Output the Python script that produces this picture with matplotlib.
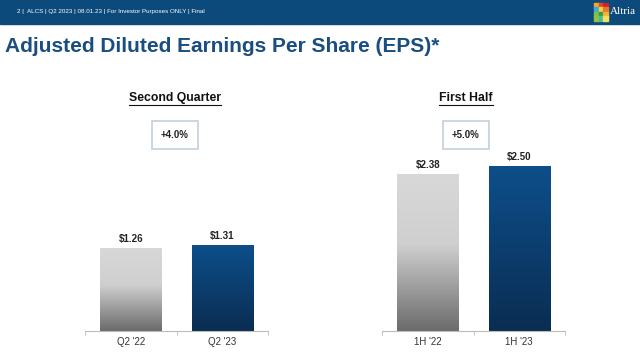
import numpy as np
import matplotlib.pyplot as plt
from matplotlib.patches import Rectangle
from matplotlib.colors import LinearSegmentedColormap

plt.rcParams['font.family'] = ['Liberation Sans', 'DejaVu Sans']

# data
q_labels = ["Q2 '22", "Q2 '23"]
q_values = [1.26, 1.31]
h_labels = ["1H '22", "1H '23"]
h_values = [2.38, 2.50]
panel_titles = ['Second Quarter', 'First Half']
growth = ['+4.0%', '+5.0%']

header_text = '2 |  ALCS | Q2 2023 | 08.01.23 | For Investor Purposes ONLY | Final'
title = 'Adjusted Diluted Earnings Per Share (EPS)*'

navy = '#0c4a7c'
title_blue = '#1a4d80'

gray_cmap = LinearSegmentedColormap.from_list('g', [(0, '#d8d8d8'), (0.45, '#cfcfcf'), (1, '#6b6b6b')])
blue_cmap = LinearSegmentedColormap.from_list('b', [(0, '#0d4f8b'), (1, '#0a2d52')])


def gradient_bars(ax, values, labels):
    bars = ax.bar(range(len(values)), values, width=0.67, color='none', zorder=2)
    grad = np.linspace(0, 1, 256).reshape(-1, 1)
    for bar, cmap in zip(bars, [gray_cmap, blue_cmap]):
        x0, y0 = bar.get_x(), bar.get_y()
        w, h = bar.get_width(), bar.get_height()
        im = ax.imshow(grad, cmap=cmap, aspect='auto', origin='upper',
                       extent=[x0, x0 + w, y0, y0 + h], zorder=1)
        im.set_clip_path(bar)
        ax.text(x0 + w / 2, h + 0.06, '$%.2f' % h, ha='center', va='bottom',
                fontsize=7, fontweight='bold', color='#222222')
    ax.set_xlim(-0.5, 1.5)
    ax.set_ylim(0, 3.0)
    ax.set_xticks(range(len(labels)))
    ax.set_xticklabels(labels, fontsize=7, color='#333333')
    ax.set_xticks([-0.5, 0.5, 1.5], minor=True)
    ax.tick_params(axis='x', which='major', length=0, pad=4)
    ax.tick_params(axis='x', which='minor', length=3, color='#bbbbbb')
    ax.set_yticks([])
    for s in ['top', 'left', 'right']:
        ax.spines[s].set_visible(False)
    ax.spines['bottom'].set_color('#bbbbbb')
    ax.set_facecolor('none')


fig = plt.figure(figsize=(6.4, 3.52), dpi=100)
W, H = 640, 352

# header bar
fig.patches.append(Rectangle((0, 1 - 24 / H), 1, 24 / H, transform=fig.transFigure,
                             color=navy, zorder=0))
fig.text(17 / W, 1 - 12 / H, header_text, fontsize=4.5, color='white', va='center')

# logo squares
logo_colors = [['#f5a623', '#e8412c', '#c4262e'],
               ['#3fa9dc', '#f7d046', '#e8772e'],
               ['#7dc242', '#2e9b48', '#f2b134'],
               ['#8cc63f', '#4bb7a5', '#f6e05a']]
for r, row in enumerate(logo_colors):
    for c, col in enumerate(row):
        fig.patches.append(Rectangle(((594 + c * 4.5) / W, 1 - (3 + (r + 1) * 4.5) / H),
                                     4.5 / W, 4.5 / H, transform=fig.transFigure,
                                     color=col, zorder=1))
fig.text(610 / W, 1 - 12 / H, 'Altria', fontsize=8, color='white', va='center',
         family=['Liberation Serif', 'DejaVu Serif'])

fig.text(5 / W, 1 - 47 / H, title, fontsize=15, fontweight='bold', color=title_blue,
         va='center')

ax1 = fig.add_axes([85 / W, 21 / H, 183 / W, 197.7 / H])
ax2 = fig.add_axes([382 / W, 21 / H, 183 / W, 197.7 / H])
gradient_bars(ax1, q_values, q_labels)
gradient_bars(ax2, h_values, h_labels)

for cx, t, g in zip([175, 466], panel_titles, growth):
    txt = fig.text(cx / W, 1 - 98 / H, t, fontsize=8.8, fontweight='bold',
                   color='#111111', ha='center', va='center')
    # underline
    fig.canvas.draw()
    bb = txt.get_window_extent()
    fig.add_artist(plt.Line2D([bb.x0 / W, bb.x1 / W], [(bb.y0 - 1) / H, (bb.y0 - 1) / H],
                              transform=fig.transFigure, color='#111111', lw=0.8))
    fig.text(cx / W, 1 - 135 / H, g, fontsize=7, fontweight='bold', color='#222222',
             ha='center', va='center',
             bbox=dict(boxstyle='square,pad=0.9', fc='white', ec='#c3cfdb', lw=1.2))

fig.savefig('out.png', dpi=100)
